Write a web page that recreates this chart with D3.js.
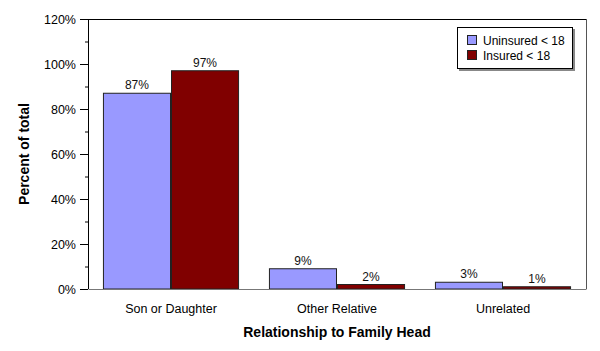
<!DOCTYPE html>
<html>
<head>
<meta charset="utf-8">
<script src="https://cdn.jsdelivr.net/npm/d3@7"></script>
<style>
  body { margin: 0; background: #fff; }
  text { font-family: Arial, "Liberation Sans", sans-serif; }
</style>
</head>
<body>
<svg id="chart"></svg>
<script>
const categories = ["Son or Daughter", "Other Relative", "Unrelated"];
const seriesNames = ["Uninsured < 18", "Insured < 18"];
const uninsured = [87, 9, 3];
const insured = [97, 2, 1];
const yTicks = [0, 20, 40, 60, 80, 100, 120];
const colors = ["#9999ff", "#800000"];

const width = 600, height = 351;
const margin = {top: 19, right: 14, bottom: 62, left: 88};
const innerW = width - margin.left - margin.right;
const innerH = height - margin.top - margin.bottom;

const svg = d3.select("#chart").attr("width", width).attr("height", height);
const chart = svg.append("g").attr("transform", `translate(${margin.left},${margin.top})`);

const x0 = d3.scaleBand().domain(categories).range([0, innerW]).paddingInner(0.18).paddingOuter(0.09);
const x1 = d3.scaleBand().domain(seriesNames).range([0, x0.bandwidth()]);
const y = d3.scaleLinear().domain([0, 120]).range([innerH, 0]);

const data = categories.map((c, i) => ({cat: c, values: [uninsured[i], insured[i]]}));

// frame: top and right borders
chart.append("line").attr("x1", 0).attr("x2", innerW).attr("y1", 0.5).attr("y2", 0.5)
  .attr("stroke", "#000");
chart.append("line").attr("x1", innerW + 0.5).attr("x2", innerW + 0.5).attr("y1", 0).attr("y2", innerH)
  .attr("stroke", "#555");

// minor ticks
chart.selectAll(".minor").data(d3.range(10, 120, 20)).join("line")
  .attr("x1", -3).attr("x2", 0)
  .attr("y1", d => y(d) + 0.5).attr("y2", d => y(d) + 0.5)
  .attr("stroke", "#000");

// groups
const groups = chart.selectAll(".grp").data(data).join("g")
  .attr("transform", d => `translate(${x0(d.cat)},0)`);

groups.selectAll("rect").data(d => d.values.map((v, j) => ({s: seriesNames[j], v, j}))).join("rect")
  .attr("x", d => x1(d.s) + 0.5)
  .attr("width", x1.bandwidth() - 1)
  .attr("y", d => y(d.v))
  .attr("height", d => innerH - y(d.v))
  .attr("fill", d => colors[d.j])
  .attr("stroke", "#222")
  .attr("stroke-width", 1);

groups.selectAll(".val").data(d => d.values.map((v, j) => ({s: seriesNames[j], v, j}))).join("text")
  .attr("x", d => x1(d.s) + x1.bandwidth() / 2)
  .attr("y", d => y(d.v) - 4)
  .attr("text-anchor", "middle")
  .attr("font-size", 12)
  .attr("fill", "#111")
  .text(d => d.v + "%");

// x axis
const xAxisG = chart.append("g").attr("transform", `translate(0,${innerH})`)
  .call(d3.axisBottom(x0).tickSize(0).tickPadding(15));
xAxisG.select(".domain").attr("stroke", "#777");
xAxisG.selectAll("text").attr("font-size", 12.5).attr("fill", "#000")
  .style("font-family", "Arial, 'Liberation Sans', sans-serif");

// y axis
const yAxisG = chart.append("g")
  .call(d3.axisLeft(y).tickValues(yTicks).tickSize(8).tickPadding(4).tickFormat(d => d + "%"));
yAxisG.select(".domain").attr("d", `M0.5,0V${innerH}`).attr("stroke", "#000");
yAxisG.selectAll("text").attr("font-size", 12.5).attr("fill", "#000")
  .style("font-family", "Arial, 'Liberation Sans', sans-serif");

// axis titles
svg.append("text")
  .attr("x", margin.left + innerW / 2).attr("y", 337)
  .attr("text-anchor", "middle").attr("font-size", 14).attr("font-weight", "bold")
  .text("Relationship to Family Head");
svg.append("text")
  .attr("transform", `translate(29,${margin.top + innerH / 2}) rotate(-90)`)
  .attr("text-anchor", "middle").attr("font-size", 14).attr("font-weight", "bold")
  .text("Percent of total");

// legend
const lg = svg.append("g").attr("transform", "translate(457,27)");
lg.append("rect").attr("x", 2).attr("y", 2).attr("width", 116).attr("height", 42).attr("fill", "#888");
lg.append("rect").attr("x", 0.5).attr("y", 0.5).attr("width", 115).attr("height", 41)
  .attr("fill", "#fff").attr("stroke", "#000");
seriesNames.forEach((s, i) => {
  lg.append("rect").attr("x", 10.5).attr("y", 8.5 + i * 15).attr("width", 9).attr("height", 9)
    .attr("fill", colors[i]).attr("stroke", "#222");
  lg.append("text").attr("x", 26).attr("y", 17.5 + i * 15)
    .attr("font-size", 12).attr("fill", "#000").text(s);
});
</script>
</body>
</html>
